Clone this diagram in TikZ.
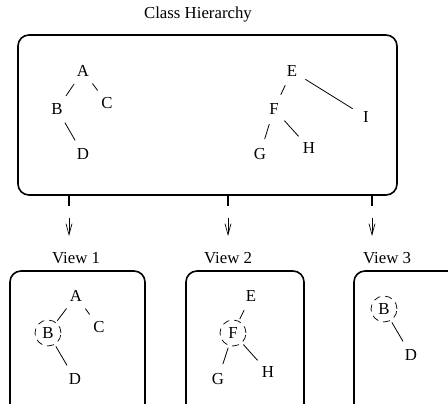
\documentclass[tikz,border=0pt]{standalone}
\usepackage{fontspec}
\setmainfont{Liberation Serif}
\usetikzlibrary{arrows.meta}

\tikzset{
  lbl/.style={circle, inner sep=0pt, minimum size=31pt, font=\fontsize{16.8}{20}\selectfont},
  pick/.style={lbl, minimum size=26pt, outer sep=2.5pt, draw, dash pattern=on 7pt off 5pt, line width=0.7pt},
  edge/.style={line width=0.8pt},
  frame/.style={draw, rounded corners=11pt, line width=1.6pt, inner sep=0pt},
  title/.style={font=\fontsize{16.8}{20}\selectfont},
  stub/.style={line width=1.3pt},
  down/.style={line width=0.7pt, -{Straight Barb[length=11pt,width=6pt]}},
}

\begin{document}
\begin{tikzpicture}[x=1pt,y=-1pt]
  \useasboundingbox (0,0) rectangle (448,404);
  \clip (0,0) rectangle (448,404);

  % whole hierarchy
  \node[title] (head) at (198,14) {Class Hierarchy};
  \node[frame, minimum width=379pt, minimum height=160pt] (hier) at (207.5,115) {};

  \node[lbl] (A) at (83,71) {A};
  \node[lbl] (B) at (57,109) {B};
  \node[lbl] (C) at (107,103) {C};
  \node[lbl] (D) at (83,154) {D};
  \node[lbl] (E) at (292,71) {E};
  \node[lbl] (F) at (274,109) {F};
  \node[lbl] (G) at (260,154) {G};
  \node[lbl] (H) at (309,148) {H};
  \node[lbl] (I) at (366,117) {I};

  \draw[edge] (A) -- (B) (A) -- (C) (B) -- (D);
  \draw[edge] (E) -- (F) (E) -- (I) (F) -- (G) (F) -- (H);

  % stubs and arrows
  \foreach \x/\n in {69/1,228/2,372/3} {
    \coordinate (t\n) at (\x,206);
    \coordinate (p\n) at (\x,218);
    \coordinate (q\n) at (\x,236);
    \draw[stub] (hier.south -| t\n) -- (t\n);
    \draw[down] (p\n) -- (q\n);
  }

  % views
  \node[title] (v1) at (76,258) {View 1};
  \node[title] (v2) at (228,258) {View 2};
  \node[title] (v3) at (387,258) {View 3};

  \node[frame, minimum width=135pt, minimum height=150pt] (box1) at (77.5,346) {};
  \node[frame, minimum width=118pt, minimum height=150pt] (box2) at (245,346) {};
  \node[frame, minimum width=140pt, minimum height=150pt] (box3) at (424,346) {};

  \node[lbl]  (A1) at (76,296) {A};
  \node[pick] (B1) at (48,333) {B};
  \node[lbl]  (C1) at (99,327) {C};
  \node[lbl]  (D1) at (75,379) {D};
  \draw[edge] (A1) -- (B1) (A1) -- (C1) (B1) -- (D1);

  \node[lbl]  (E2) at (251,296) {E};
  \node[pick] (F2) at (233,333) {F};
  \node[lbl]  (G2) at (218,379) {G};
  \node[lbl]  (H2) at (268,372) {H};
  \draw[edge] (E2) -- (F2) (F2) -- (G2) (F2) -- (H2);

  \node[pick] (B3) at (384,309) {B};
  \node[lbl]  (D3) at (411,355) {D};
  \draw[edge] (B3) -- (D3);
\end{tikzpicture}
\end{document}
